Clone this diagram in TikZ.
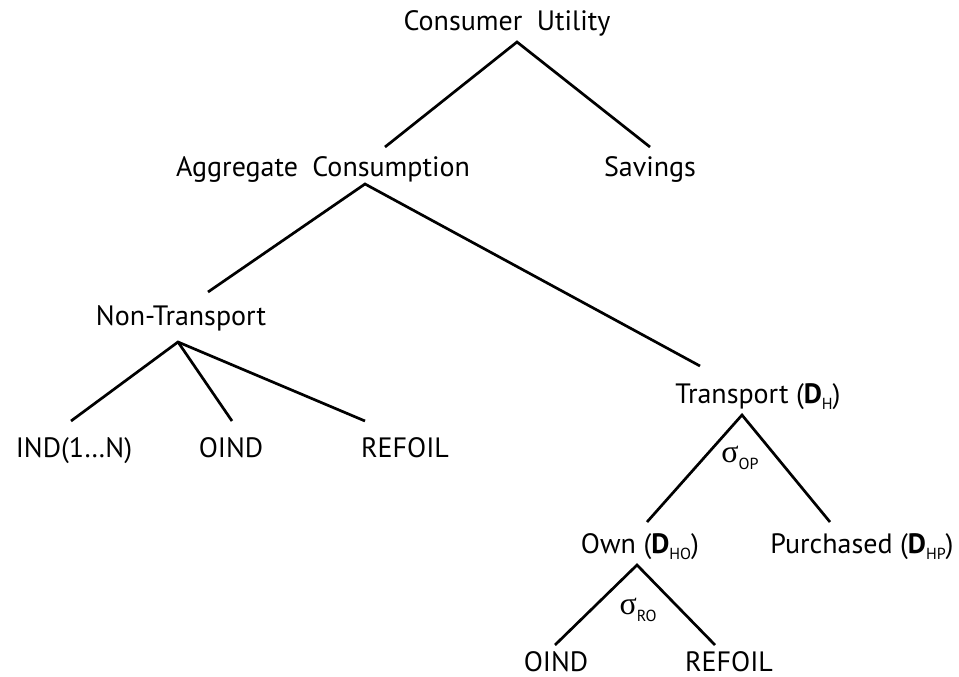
\documentclass[tikz,border=0pt]{standalone}
\usepackage{fontspec}
\setmainfont{PT Sans}
\newfontfamily\symfont{Liberation Serif}
\newcommand{\lbl}[1]{\raisebox{-0.45ex}{\fontsize{16}{16}\selectfont #1}}
\newcommand{\sig}[1]{{\symfont\fontsize{32}{32}\selectfont σ}\lbl{#1}}
\tikzset{
  lab/.style={anchor=base, inner sep=0pt, font=\fontsize{28}{32}\selectfont},
  sg/.style={anchor=center, inner sep=0pt, font=\fontsize{28}{32}\selectfont},
  br/.style={line width=2.7pt, line cap=butt, line join=miter}
}
\begin{document}
\begin{tikzpicture}[x=1pt,y=-1pt]
\useasboundingbox (0,0) rectangle (959,677);
% nodes
\node[lab] (cu) at (507,31) {Consumer\hspace{0.25em} Utility};
\node[lab] (ac) at (323,176) {Aggregate\hspace{0.25em} Consumption};
\node[lab] (sav) at (650,176) {Savings};
\node[lab] (nt) at (181,325) {Non-Transport};
\node[lab] (ind) at (74,457) {IND(1…N)};
\node[lab] (oi1) at (231,457) {OIND};
\node[lab] (rf1) at (405,457) {REFOIL};
\node[lab] (tr) at (758,403) {Transport (\textbf{D}\lbl{H})};
\node[sg] (sop) at (740,458) {\sig{OP}};
\node[lab] (own) at (640,553) {Own (\textbf{D}\lbl{HO})};
\node[lab] (pur) at (862,553) {Purchased (\textbf{D}\lbl{HP})};
\node[sg] (sro) at (638,610) {\sig{RO}};
\node[lab] (oi2) at (556,671) {OIND};
\node[lab] (rf2) at (729,671) {REFOIL};
% branch points
\coordinate (a1) at (517,42);
\coordinate (a1l) at (385,147);
\coordinate (a1r) at (650,147);
\coordinate (a2) at (365,184);
\coordinate (a2l) at (208,292);
\coordinate (a2r) at (700,366);
\coordinate (a3) at (178,342);
\coordinate (a3a) at (71,421);
\coordinate (a3b) at (232,421);
\coordinate (a3c) at (365,421);
\coordinate (a4) at (742,415);
\coordinate (a4l) at (647,522);
\coordinate (a4r) at (830,522);
\coordinate (a5) at (637,565);
\coordinate (a5l) at (555,645);
\coordinate (a5r) at (715,645);
% connectors
\draw[br] (a1l) -- (a1) -- (a1r);
\draw[br] (a2l) -- (a2) -- (a2r);
\draw[br] (a3a) -- (a3) -- (a3c);
\draw[br] (a3) -- (a3b);
\draw[br] (a4l) -- (a4) -- (a4r);
\draw[br] (a5l) -- (a5) -- (a5r);
\end{tikzpicture}
\end{document}
